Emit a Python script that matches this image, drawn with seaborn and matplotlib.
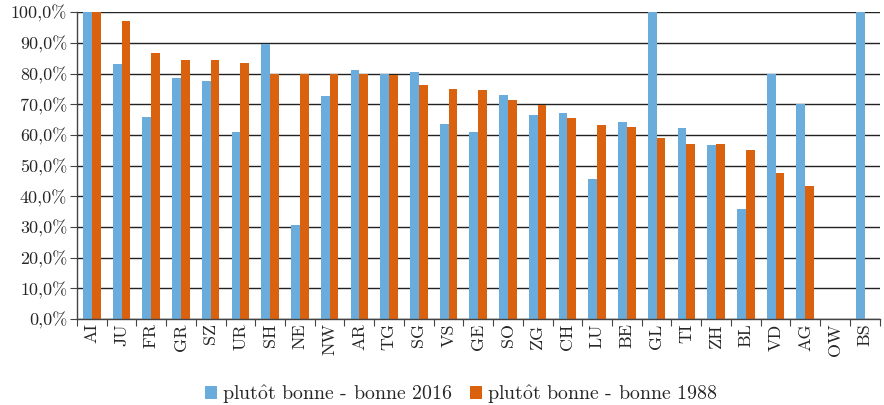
import numpy as np
import pandas as pd
import seaborn as sns
import matplotlib
matplotlib.use("Agg")
import matplotlib.pyplot as plt
from matplotlib.ticker import FixedLocator

cantons = ["AI", "JU", "FR", "GR", "SZ", "UR", "SH", "NE", "NW", "AR", "TG", "SG", "VS", "GE",
           "SO", "ZG", "CH", "LU", "BE", "GL", "TI", "ZH", "BL", "VD", "AG", "OW", "BS"]
vals_2016 = [100.0, 83.0, 65.9, 78.6, 77.7, 61.0, 89.5, 30.6, 72.6, 81.2, 80.0, 80.5, 63.6, 61.1,
             72.9, 66.6, 67.1, 45.8, 64.3, 100.0, 62.4, 56.7, 35.8, 79.8, 70.0, np.nan, 100.0]
vals_1988 = [100.0, 97.2, 86.6, 84.5, 84.5, 83.3, 80.0, 80.0, 80.0, 80.0, 79.4, 76.4, 75.1, 74.8,
             71.3, 69.8, 65.6, 63.1, 62.5, 59.0, 57.2, 56.9, 55.0, 47.5, 43.5, np.nan, np.nan]
series = ["plutôt bonne - bonne 2016", "plutôt bonne - bonne 1988"]
colors = ["#6aacdc", "#da620e"]
yticks = np.arange(0, 101, 10)

df = pd.DataFrame({
    "canton": cantons * 2,
    "serie": [series[0]] * len(cantons) + [series[1]] * len(cantons),
    "pct": vals_2016 + vals_1988,
})

sns.set_style("white")
plt.rcParams["font.family"] = ["cmr10", "DejaVu Serif"]
plt.rcParams["mathtext.fontset"] = "cm"
plt.rcParams["axes.unicode_minus"] = False

fig = plt.figure(figsize=(8.84, 4.05), dpi=100)
ax = fig.add_axes([0.087, 0.212, 0.908, 0.758])

sns.barplot(data=df, x="canton", y="pct", hue="serie", palette=colors,
            width=0.59, saturation=1, linewidth=0, ax=ax, legend=True)

ax.set_ylim(0, 100)
ax.set_xlim(-0.5, len(cantons) - 0.5)
ax.set_yticks(yticks)
ax.set_yticklabels([f"{v:.1f}".replace(".", ",") + "%" for v in yticks], fontsize=13)
ax.yaxis.grid(True, color="#222222", linewidth=1.0)
ax.set_axisbelow(True)

ax.set_xticks(range(len(cantons)))
ax.set_xticklabels(cantons, rotation=90, fontsize=13)
ax.xaxis.set_minor_locator(FixedLocator(np.arange(-0.5, len(cantons), 1)))
ax.tick_params(axis="x", which="major", length=0, pad=3)
ax.tick_params(axis="x", which="minor", length=5, width=0.8, color="#444444", bottom=True)
ax.tick_params(axis="y", length=5, width=0.8, color="#444444", left=True, pad=2)

ax.set_xlabel("")
ax.set_ylabel("")
for s in ["top", "right"]:
    ax.spines[s].set_visible(False)
for s in ["left", "bottom"]:
    ax.spines[s].set_color("#444444")
    ax.spines[s].set_linewidth(1.0)

# cmr10 has no precomposed ô, build it with a math accent
handles, _ = ax.get_legend_handles_labels()
labels = [s.replace("ô", r"$\hat{\mathrm{o}}$") for s in series]
ax.legend(handles, labels, loc="center", bbox_to_anchor=(0.479, -0.245), ncol=2, frameon=False,
          fontsize=14.3, handlelength=0.6, handleheight=0.6, handletextpad=0.25,
          columnspacing=0.9)

fig.savefig("out.png", dpi=100)
